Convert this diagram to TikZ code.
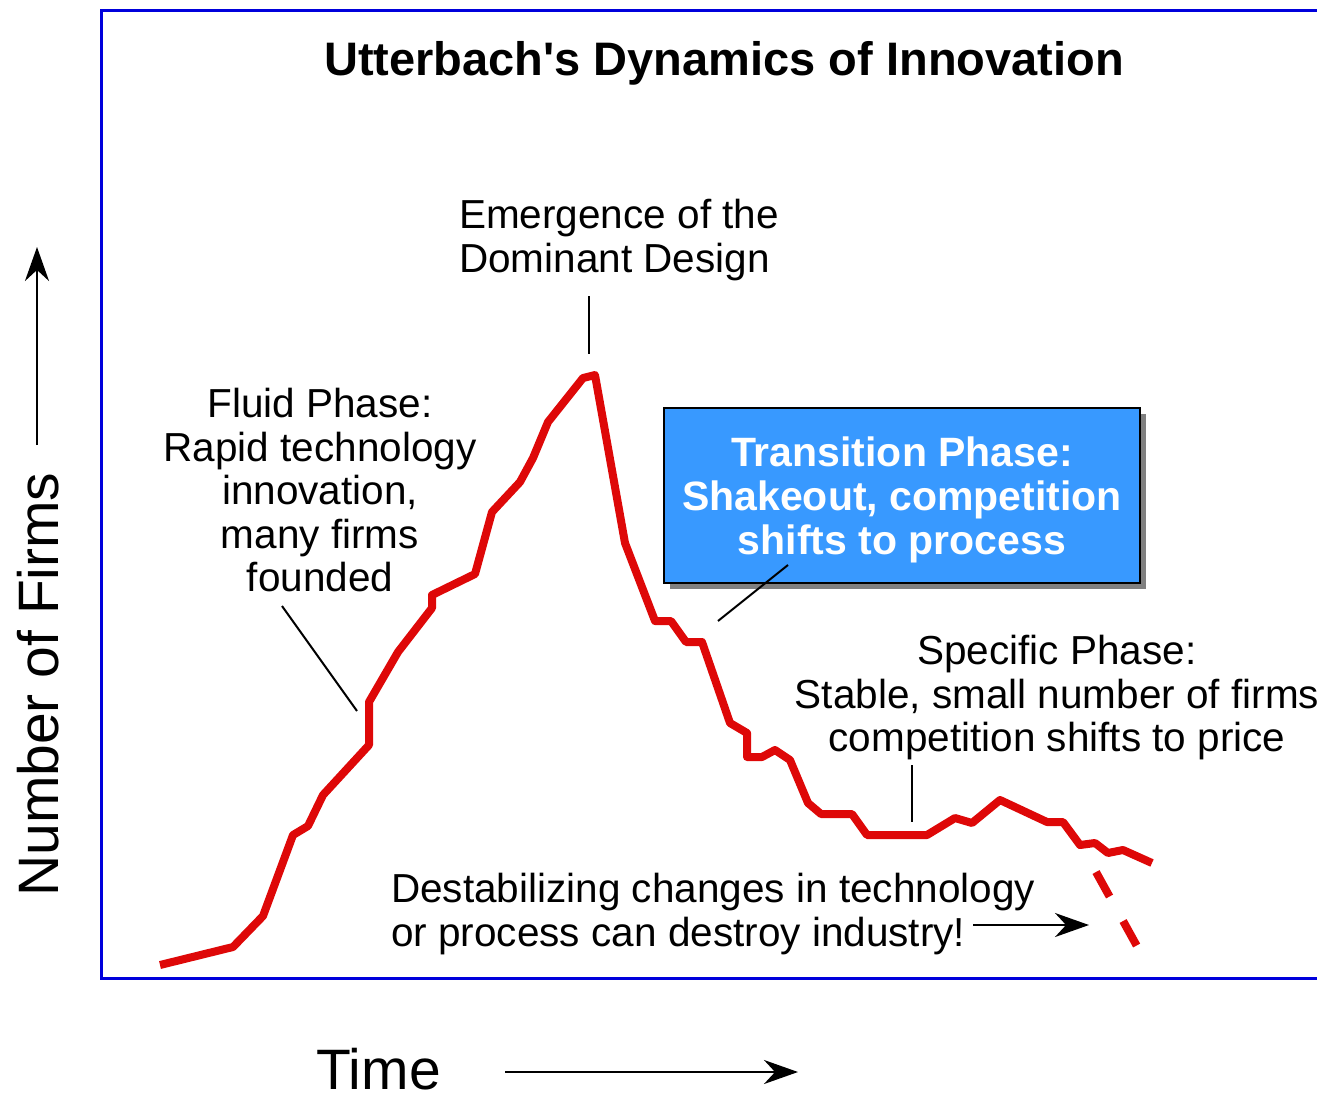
\documentclass[tikz,border=0pt]{standalone}
\usepackage{fontspec}
\setmainfont{Liberation Sans}
\usetikzlibrary{arrows.meta, shadows}

\definecolor{curvered}{RGB}{222,8,8}
\definecolor{frameblue}{RGB}{0,0,220}
\definecolor{boxblue}{RGB}{56,153,255}

\newcommand{\bodyfont}{\fontsize{40.5}{43.5}\selectfont}
\newcommand{\axisfont}{\fontsize{57}{60}\selectfont}

\begin{document}
\begin{tikzpicture}[x=1pt, y=-1pt,
    every node/.style={inner sep=0pt},
    leader/.style={line width=2pt},
    pointer/.style={line width=2.5pt, -{Stealth[length=34pt, width=24pt]}},
    firms/.style={draw=curvered, line width=8pt, line join=round},
    phase text/.style={font=\bodyfont}]
  \useasboundingbox (0, 0) rectangle (1317, 1101);
  \clip (0, 0) rectangle (1317, 1101);

  % frame, open past the right edge
  \draw[frameblue, line width=3pt]
    (1330, 10) -- (101, 10) -- (101, 978) -- (1330, 978);

  % title
  \node (title) [anchor=base, font=\fontsize{47}{50}\selectfont\bfseries]
    at (724, 75) {Utterbach\textquotesingle s Dynamics of Innovation};

  % number of firms over time
  \draw[firms]
    (160, 965) -- (233, 947) -- (263, 916) -- (293, 835) -- (308, 826)
    -- (323, 795) -- (369, 745) -- (369, 702) -- (398, 652) -- (432, 608)
    -- (432, 595) -- (475, 574) -- (492, 512) -- (520, 482) -- (533, 458)
    -- (548, 422) -- (583, 378) -- (595, 375) -- (625, 543) -- (655, 621)
    -- (671, 621) -- (686, 642) -- (702, 642) -- (730, 723) -- (747, 733)
    -- (747, 757) -- (762, 757) -- (775, 750) -- (790, 760) -- (808, 803)
    -- (821, 814) -- (852, 814) -- (867, 835) -- (927, 835) -- (955, 818)
    -- (972, 823) -- (1000, 800) -- (1047, 822) -- (1063, 822) -- (1080, 845)
    -- (1095, 843) -- (1108, 853) -- (1123, 850) -- (1152, 863);

  % collapse of the industry
  \draw[firms, dash pattern=on 28pt off 28pt]
    (1096, 872) -- (1117, 910) -- (1138, 948);

  % labels for the phases
  \node (emergence) [phase text, anchor=north west, align=left] at (459, 199)
    {Emergence of the\\Dominant Design};
  \node (fluid) [phase text, anchor=north, align=center] at (320, 388)
    {Fluid Phase:\\Rapid technology\\innovation,\\many firms\\founded};
  \node (specific) [phase text, anchor=north, align=center] at (1057, 635)
    {Specific Phase:\\Stable, small number of firms\\competition shifts to price};
  \node (destab) [phase text, anchor=north west, align=left] at (391, 873)
    {Destabilizing changes in technology\\or process can destroy industry!};

  % transition box
  \node (transition) [draw, line width=2.5pt, fill=boxblue, text=white,
    font=\fontsize{41}{44}\selectfont\bfseries, align=center,
    minimum width=476pt, minimum height=175pt,
    drop shadow={shadow xshift=6pt, shadow yshift=-6pt,
      fill=black!50, opacity=1}]
    at (902, 495.5)
    {\rule{0pt}{39pt}Transition Phase:\\Shakeout, competition\\shifts to process};

  % leader lines
  \coordinate (emergence tip) at (589, 296);
  \coordinate (emergence foot) at (589, 354);
  \draw[leader] (emergence tip) -- (emergence foot);
  \coordinate (fluid tip) at (282, 606);
  \coordinate (fluid foot) at (357, 711);
  \draw[leader] (fluid tip) -- (fluid foot);
  \coordinate (transition tip) at (788, 565);
  \coordinate (transition foot) at (718, 621);
  \draw[leader] (transition tip) -- (transition foot);
  \coordinate (specific tip) at (912, 765);
  \coordinate (specific foot) at (912, 822);
  \draw[leader] (specific tip) -- (specific foot);

  \coordinate (destab start) at (973, 925);
  \coordinate (destab end) at (1089, 925);
  \draw[pointer] (destab start) -- (destab end);

  % axes
  \node (time) [anchor=base west, font=\axisfont] at (316, 1089) {Time};
  \coordinate (time start) at (505, 1072);
  \coordinate (time end) at (798, 1072);
  \draw[pointer] (time start) -- (time end);

  \node (firms label) [anchor=base west, rotate=90, font=\axisfont]
    at (58, 897) {Number of Firms};
  \coordinate (firms start) at (37, 445);
  \coordinate (firms end) at (37, 247);
  \draw[pointer] (firms start) -- (firms end);
\end{tikzpicture}
\end{document}
